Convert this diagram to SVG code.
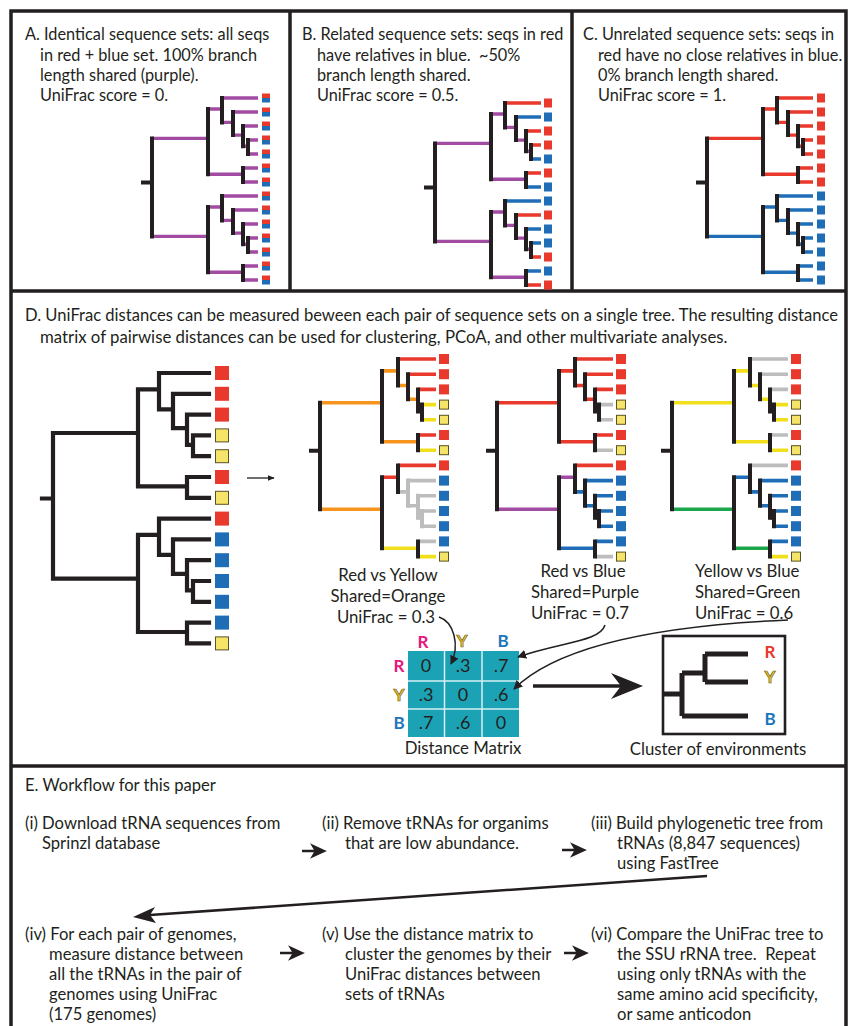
<svg xmlns="http://www.w3.org/2000/svg" xmlns:xlink="http://www.w3.org/1999/xlink" width="849" height="1026" viewBox="0 0 849 1026">
<defs>
<style>
.t{font-family:Lato,"Liberation Sans",sans-serif;font-size:16.8px;fill:#231f20}
.s{font-size:16.3px}
.e{font-size:16.6px}
.m{text-anchor:middle}
.bd{font-weight:bold}
.frame{fill:none;stroke:#231f20;stroke-width:3.5}
.h{fill:none;stroke-width:3.4;stroke-linecap:butt}
.hm{fill:none;stroke-width:3.6;stroke-linecap:butt}
.v{fill:none;stroke:#231f20;stroke-width:4;stroke-linecap:square}
.vg{fill:none;stroke:#bdbdbd;stroke-width:4;stroke-linecap:square}
.k{fill:none;stroke:#231f20;stroke-width:4.2;stroke-linecap:square}
.pu{stroke:#a24ba3}.rd{stroke:#e8392c}.bl{stroke:#1f6db6}.or{stroke:#f7941d}.ye{stroke:#f2df1c}.gr{stroke:#bdbdbd}.gn{stroke:#1ca64b}
.sr{fill:#e8392c}.sb{fill:#1f6db6}.sy{fill:#f6e46a;stroke:#5a5222;stroke-width:1}
.cur{fill:none;stroke:#231f20;stroke-width:1.5}
</style>
<marker id="ah" viewBox="0 0 10 10" refX="9" refY="5" markerWidth="9" markerHeight="9" markerUnits="userSpaceOnUse" orient="auto">
<path d="M0,0L10,5L0,10z" fill="#231f20"/>
</marker>
<marker id="ahs" viewBox="0 0 10 10" refX="9" refY="5" markerWidth="7" markerHeight="7" markerUnits="userSpaceOnUse" orient="auto">
<path d="M0,1L10,5L0,9z" fill="#231f20"/>
</marker>
<g id="rb"><rect x="0" y="-4.5" width="8" height="4.5" fill="#e8392c"/><rect x="0" y="0" width="8" height="4.5" fill="#1f6db6"/></g>
<path id="arr" d="M-11,0H2M11,0L0,-5L3,0L0,5z" stroke="#231f20" stroke-width="2.4" fill="#231f20"/>
</defs>

<rect width="849" height="1026" fill="#ffffff"/>

<g id="frame">
<path class="frame" d="M11,1026V11H846V1026M290,11V291M572,11V291M11,291H846M11,766H846"/>
</g>

<!-- Panel A -->
<g id="panelA">
<text class="t s" x="25" y="40">A. Identical sequence sets: all seqs</text>
<text class="t s" x="40" y="61">in red + blue set. 100% branch</text>
<text class="t s" x="40" y="81">length shared (purple).</text>
<text class="t s" x="40" y="101">UniFrac score = 0.</text>
<g id="treeA">
<path class="h pu" d="M152,138.4H208M152,236.4H208M208,109H222M208,174.3H243M222,98H258M222,122.4H233M233,112H258M233,135.1H243M243,126H258M243,146.3H248M248,140H258M248,154H258M243,168H258M243,182H258M208,207H222M208,272.3H243M222,196H258M222,220.4H233M233,210H258M233,233.1H243M243,224H258M243,244.3H248M248,238H258M248,252H258M243,266H258M243,280H258"/>
<path class="v" d="M143,182.5H152M152,138.4V236.4M208,109V174.3M222,98V122.4M233,112V135.1M243,126V146.3M248,140V154M243,168V182M208,207V272.3M222,196V220.4M233,210V233.1M243,224V244.3M248,238V252M243,266V280"/>
<use xlink:href="#rb" x="262" y="98"/><use xlink:href="#rb" x="262" y="112"/><use xlink:href="#rb" x="262" y="126"/><use xlink:href="#rb" x="262" y="140"/><use xlink:href="#rb" x="262" y="154"/><use xlink:href="#rb" x="262" y="168"/><use xlink:href="#rb" x="262" y="182"/><use xlink:href="#rb" x="262" y="196"/><use xlink:href="#rb" x="262" y="210"/><use xlink:href="#rb" x="262" y="224"/><use xlink:href="#rb" x="262" y="238"/><use xlink:href="#rb" x="262" y="252"/><use xlink:href="#rb" x="262" y="266"/><use xlink:href="#rb" x="262" y="280"/>
</g>
</g>

<!-- Panel B -->
<g id="panelB">
<text class="t s" x="302" y="40">B. Related sequence sets: seqs in red</text>
<text class="t s" x="317" y="61" style="white-space:pre">have relatives in blue.  ~50%</text>
<text class="t s" x="317" y="81">branch length shared.</text>
<text class="t s" x="317" y="101">UniFrac score = 0.5.</text>
<g id="treeB" transform="translate(283,5)">
<path class="h pu" d="M152,138.4H208M152,236.4H208M208,109H222M208,174.3H243M222,122.4H233M233,135.1H243M243,146.3H248M208,207H222M208,272.3H243M222,220.4H233M233,233.1H243M243,244.3H248"/>
<path class="h rd" d="M222,98H258M243,126H258M248,140H258M243,168H258M233,210H258M248,252H258M243,280H258"/>
<path class="h bl" d="M233,112H258M248,154H258M243,182H258M222,196H258M243,224H258M248,238H258M243,266H258"/>
<path class="v" d="M143,182.5H152M152,138.4V236.4M208,109V174.3M222,98V122.4M233,112V135.1M243,126V146.3M248,140V154M243,168V182M208,207V272.3M222,196V220.4M233,210V233.1M243,224V244.3M248,238V252M243,266V280"/>
<g>
<rect class="sr" x="261" y="93.5" width="8" height="9"/><rect class="sb" x="261" y="107.5" width="8" height="9"/><rect class="sr" x="261" y="121.5" width="8" height="9"/><rect class="sr" x="261" y="135.5" width="8" height="9"/><rect class="sb" x="261" y="149.5" width="8" height="9"/><rect class="sr" x="261" y="163.5" width="8" height="9"/><rect class="sb" x="261" y="177.5" width="8" height="9"/><rect class="sb" x="261" y="191.5" width="8" height="9"/><rect class="sr" x="261" y="205.5" width="8" height="9"/><rect class="sb" x="261" y="219.5" width="8" height="9"/><rect class="sb" x="261" y="233.5" width="8" height="9"/><rect class="sr" x="261" y="247.5" width="8" height="9"/><rect class="sb" x="261" y="261.5" width="8" height="9"/><rect class="sr" x="261" y="275.5" width="8" height="9"/>
</g>
</g>
</g>

<!-- Panel C -->
<g id="panelC">
<text class="t s" x="583" y="40">C. Unrelated sequence sets: seqs in</text>
<text class="t s" x="598" y="61">red have no close relatives in blue.</text>
<text class="t s" x="598" y="81">0% branch length shared.</text>
<text class="t s" x="598" y="101">UniFrac score = 1.</text>
<g id="treeC" transform="translate(555,0)">
<path class="h rd" d="M152,138.4H208M208,109H222M208,174.3H243M222,98H258M222,122.4H233M233,112H258M233,135.1H243M243,126H258M243,146.3H248M248,140H258M248,154H258M243,168H258M243,182H258"/>
<path class="h bl" d="M152,236.4H208M208,207H222M208,272.3H243M222,196H258M222,220.4H233M233,210H258M233,233.1H243M243,224H258M243,244.3H248M248,238H258M248,252H258M243,266H258M243,280H258"/>
<path class="v" d="M143,182.5H152M152,138.4V236.4M208,109V174.3M222,98V122.4M233,112V135.1M243,126V146.3M248,140V154M243,168V182M208,207V272.3M222,196V220.4M233,210V233.1M243,224V244.3M248,238V252M243,266V280"/>
<g>
<rect class="sr" x="262" y="93.5" width="8" height="9"/><rect class="sr" x="262" y="107.5" width="8" height="9"/><rect class="sr" x="262" y="121.5" width="8" height="9"/><rect class="sr" x="262" y="135.5" width="8" height="9"/><rect class="sr" x="262" y="149.5" width="8" height="9"/><rect class="sr" x="262" y="163.5" width="8" height="9"/><rect class="sr" x="262" y="177.5" width="8" height="9"/><rect class="sb" x="262" y="191.5" width="8" height="9"/><rect class="sb" x="262" y="205.5" width="8" height="9"/><rect class="sb" x="262" y="219.5" width="8" height="9"/><rect class="sb" x="262" y="233.5" width="8" height="9"/><rect class="sb" x="262" y="247.5" width="8" height="9"/><rect class="sb" x="262" y="261.5" width="8" height="9"/><rect class="sb" x="262" y="275.5" width="8" height="9"/>
</g>
</g>
</g>

<!-- Panel D -->
<g id="panelD-text">
<text class="t" x="25" y="321" textLength="813" lengthAdjust="spacingAndGlyphs">D. UniFrac distances can be measured beween each pair of sequence sets on a single tree. The resulting distance</text>
<text class="t" x="40" y="343">matrix of pairwise distances can be used for clustering, PCoA, and other multivariate analyses.</text>
</g>

<g id="treeD">
<path class="k" d="M42,498.5H53M53,433V578.6M53,433H138M53,578.6H138M138,389.3V486.4M138,389.3H159M138,486.4H187M159,373V409.3M159,373H209M159,409.3H173M173,393.8V428.2M173,393.8H209M173,428.2H187M187,414.6V444.8M187,414.6H209M187,444.8H193M193,435.4V456.2M193,435.4H209M193,456.2H209M187,477V497.8M187,477H209M187,497.8H209M138,534.9V632M138,534.9H159M138,632H187M159,518.6V554.9M159,518.6H209M159,554.9H173M173,539.4V573.8M173,539.4H209M173,573.8H187M187,560.2V590.4M187,560.2H209M187,590.4H193M193,581V601.8M193,581H209M193,601.8H209M187,622.6V643.4M187,622.6H209M187,643.4H209"/>
<rect class="sr" x="215" y="366" width="14" height="14"/><rect class="sr" x="215" y="386.8" width="14" height="14"/><rect class="sr" x="215" y="407.6" width="14" height="14"/><rect class="sy" x="215.5" y="428.9" width="13" height="13"/><rect class="sy" x="215.5" y="449.7" width="13" height="13"/><rect class="sr" x="215" y="470" width="14" height="14"/><rect class="sy" x="215.5" y="491.3" width="13" height="13"/><rect class="sr" x="215" y="511.6" width="14" height="14"/><rect class="sb" x="215" y="532.4" width="14" height="14"/><rect class="sb" x="215" y="553.2" width="14" height="14"/><rect class="sb" x="215" y="574" width="14" height="14"/><rect class="sb" x="215" y="594.8" width="14" height="14"/><rect class="sb" x="215" y="615.6" width="14" height="14"/><rect class="sy" x="215.5" y="636.9" width="13" height="13"/>
</g>

<g id="arrowD">
<path d="M247,478H274" stroke="#231f20" stroke-width="1.3" fill="none" marker-end="url(#ahs)"/>
</g>

<g id="tree1">
<path class="hm or" d="M320,402.8H382M320,509.2H382M382,370.9H398M382,441.8H418M398,385.5H408M408,399.3H418"/>
<path class="hm rd" d="M398,359H436M408,374.2H436M418,389.4H436M418,435H436M382,477.3H398M398,465.4H436"/>
<path class="hm ye" d="M418,411.4H422M422,404.6H436M422,419.8H436M418,450.2H436M382,548.2H418M418,556.6H436"/>
<path class="hm gr" d="M398,491.9H408M408,480.6H436M408,505.7H418M418,495.8H436M418,517.8H422M422,511H436M422,526.2H436M418,541.4H436"/>
<path class="vg" d="M408,480.6V505.7M418,495.8V517.8M422,511V526.2"/>
<path class="v" d="M311,450.7H320M320,402.8V509.2M382,370.9V441.8M398,359V385.5M408,374.2V399.3M418,389.4V411.4M422,404.6V419.8M418,435V450.2M382,477.3V548.2M398,465.4V491.9M418,541.4V556.6"/>
<rect class="sr" x="439" y="354" width="10" height="10"/><rect class="sr" x="439" y="369.2" width="10" height="10"/><rect class="sr" x="439" y="384.4" width="10" height="10"/><rect class="sy" x="439.5" y="400.1" width="9" height="9"/><rect class="sy" x="439.5" y="415.3" width="9" height="9"/><rect class="sr" x="439" y="430" width="10" height="10"/><rect class="sy" x="439.5" y="445.7" width="9" height="9"/><rect class="sr" x="439" y="460.4" width="10" height="10"/><rect class="sb" x="439" y="475.6" width="10" height="10"/><rect class="sb" x="439" y="490.8" width="10" height="10"/><rect class="sb" x="439" y="506" width="10" height="10"/><rect class="sb" x="439" y="521.2" width="10" height="10"/><rect class="sb" x="439" y="536.4" width="10" height="10"/><rect class="sy" x="439.5" y="552.1" width="9" height="9"/>
<text class="t m" x="388" y="581">Red vs Yellow</text>
<text class="t m" x="388" y="602">Shared=Orange</text>
<text class="t m" x="386" y="623">UniFrac = 0.3</text>
</g>

<g id="tree2">
<g transform="translate(177,0)">
<path class="hm rd" d="M320,402.8H382M382,370.9H398M382,441.8H418M398,359H436M398,385.5H408M408,374.2H436M408,399.3H418M418,389.4H436M418,435H436M398,465.4H436"/>
<path class="hm pu" d="M320,509.2H382M382,477.3H398"/>
<path class="hm gr" d="M418,411.4H422M422,404.6H436M422,419.8H436M418,450.2H436M418,556.6H436"/>
<path class="hm bl" d="M382,548.2H418M398,491.9H408M408,480.6H436M408,505.7H418M418,495.8H436M418,517.8H422M422,511H436M422,526.2H436M418,541.4H436"/>
<path class="v" d="M311,450.7H320M320,402.8V509.2M382,370.9V441.8M398,359V385.5M408,374.2V399.3M418,389.4V411.4M422,404.6V419.8M418,435V450.2M382,477.3V548.2M398,465.4V491.9M408,480.6V505.7M418,495.8V517.8M422,511V526.2M418,541.4V556.6"/>
<rect class="sr" x="439" y="354" width="10" height="10"/><rect class="sr" x="439" y="369.2" width="10" height="10"/><rect class="sr" x="439" y="384.4" width="10" height="10"/><rect class="sy" x="439.5" y="400.1" width="9" height="9"/><rect class="sy" x="439.5" y="415.3" width="9" height="9"/><rect class="sr" x="439" y="430" width="10" height="10"/><rect class="sy" x="439.5" y="445.7" width="9" height="9"/><rect class="sr" x="439" y="460.4" width="10" height="10"/><rect class="sb" x="439" y="475.6" width="10" height="10"/><rect class="sb" x="439" y="490.8" width="10" height="10"/><rect class="sb" x="439" y="506" width="10" height="10"/><rect class="sb" x="439" y="521.2" width="10" height="10"/><rect class="sb" x="439" y="536.4" width="10" height="10"/><rect class="sy" x="439.5" y="552.1" width="9" height="9"/>
</g>
<text class="t m" x="583" y="577">Red vs Blue</text>
<text class="t m" x="585" y="598">Shared=Purple</text>
<text class="t m" x="580" y="619">UniFrac = 0.7</text>
</g>

<g id="tree3">
<g transform="translate(352,0)">
<path class="hm ye" d="M320,402.8H382M382,370.9H398M382,441.8H418M398,385.5H408M408,399.3H418M418,411.4H422M422,404.6H436M422,419.8H436M418,450.2H436M418,556.6H436"/>
<path class="hm gr" d="M398,359H436M408,374.2H436M418,389.4H436M418,435H436M398,465.4H436"/>
<path class="hm gn" d="M320,509.2H382M382,548.2H418"/>
<path class="hm bl" d="M382,477.3H398M398,491.9H408M408,480.6H436M408,505.7H418M418,495.8H436M418,517.8H422M422,511H436M422,526.2H436M418,541.4H436"/>
<path class="v" d="M311,450.7H320M320,402.8V509.2M382,370.9V441.8M398,359V385.5M408,374.2V399.3M418,389.4V411.4M422,404.6V419.8M418,435V450.2M382,477.3V548.2M398,465.4V491.9M408,480.6V505.7M418,495.8V517.8M422,511V526.2M418,541.4V556.6"/>
<rect class="sr" x="439" y="354" width="10" height="10"/><rect class="sr" x="439" y="369.2" width="10" height="10"/><rect class="sr" x="439" y="384.4" width="10" height="10"/><rect class="sy" x="439.5" y="400.1" width="9" height="9"/><rect class="sy" x="439.5" y="415.3" width="9" height="9"/><rect class="sr" x="439" y="430" width="10" height="10"/><rect class="sy" x="439.5" y="445.7" width="9" height="9"/><rect class="sr" x="439" y="460.4" width="10" height="10"/><rect class="sb" x="439" y="475.6" width="10" height="10"/><rect class="sb" x="439" y="490.8" width="10" height="10"/><rect class="sb" x="439" y="506" width="10" height="10"/><rect class="sb" x="439" y="521.2" width="10" height="10"/><rect class="sb" x="439" y="536.4" width="10" height="10"/><rect class="sy" x="439.5" y="552.1" width="9" height="9"/>
</g>
<text class="t" x="695" y="577">Yellow vs Blue</text>
<text class="t" x="695" y="598">Shared=Green</text>
<text class="t" x="695" y="619">UniFrac = 0.6</text>
</g>

<g id="matrix">
<rect x="408" y="651" width="111" height="86" fill="#1ba3b5"/>
<path d="M444.5,651V737M482,651V737M408,681H519M408,709H519" stroke="#d6f0f3" stroke-width="1.5" fill="none"/>
<g class="t m" style="font-size:18px">
<text x="426" y="672">0</text><text x="463" y="672">.3</text><text x="501" y="672">.7</text>
<text x="426" y="701">.3</text><text x="463" y="701">0</text><text x="501" y="701">.6</text>
<text x="426" y="729">.7</text><text x="463" y="729">.6</text><text x="501" y="729">0</text>
</g>
<g class="t m bd" style="font-size:17px">
<text x="423" y="648" style="fill:#e5187f">R</text>
<text x="462" y="647" style="fill:#e9c431;stroke:#6b5a12;stroke-width:0.6">Y</text>
<text x="503" y="647" style="fill:#1b75bc">B</text>
<text x="399" y="672" style="fill:#e5187f">R</text>
<text x="399" y="701" style="fill:#e9c431;stroke:#6b5a12;stroke-width:0.6">Y</text>
<text x="399" y="729" style="fill:#1b75bc">B</text>
</g>
<text class="t m" x="463" y="754">Distance Matrix</text>
</g>

<g id="cluster">
<rect x="663" y="636" width="122" height="98" fill="none" stroke="#231f20" stroke-width="2.6"/>
<path d="M664,694H682M682,673V716M682,673H705M705,654V682M705,654H748M705,682H748M682,716H748" fill="none" stroke="#231f20" stroke-width="5"/>
<g class="t m bd" style="font-size:17px">
<text x="770" y="658" style="fill:#e8392c">R</text>
<text x="770" y="683" style="fill:#e9c431;stroke:#6b5a12;stroke-width:0.6">Y</text>
<text x="770" y="725" style="fill:#1b75bc">B</text>
</g>
<text class="t m" x="718" y="755">Cluster of environments</text>
</g>

<g id="connectors">
<path class="cur" d="M439,617C454,622 460,645 451,664" marker-end="url(#ah)"/>
<path class="cur" d="M605,625C600,642 560,642 518,657" marker-end="url(#ah)"/>
<path class="cur" d="M788,620C650,626 555,648 514,689" marker-end="url(#ah)"/>
<path d="M533,686H624" stroke="#231f20" stroke-width="3.5" fill="none"/>
<path d="M643,686L611,673L621,686L611,699z" fill="#231f20"/>
</g>

<!-- Panel E -->
<g id="panelE">
<text class="t e" x="25" y="791">E. Workflow for this paper</text>
<g id="step1">
<text class="t e" x="25" y="829">(i) Download tRNA sequences from</text>
<text class="t e" x="42" y="849">Sprinzl database</text>
</g>
<g id="step2">
<text class="t e" x="322" y="829">(ii) Remove tRNAs for organims</text>
<text class="t e" x="345" y="849">that are low abundance.</text>
</g>
<g id="step3">
<text class="t e" x="591" y="829">(iii) Build phylogenetic tree from</text>
<text class="t e" x="617" y="849">tRNAs (8,847 sequences)</text>
<text class="t e" x="617" y="869">using FastTree</text>
</g>
<g id="step4">
<text class="t e" x="25" y="940">(iv) For each pair of genomes,</text>
<text class="t e" x="49" y="960">measure distance between</text>
<text class="t e" x="49" y="980">all the tRNAs in the pair of</text>
<text class="t e" x="49" y="1000">genomes using UniFrac</text>
<text class="t e" x="49" y="1020">(175 genomes)</text>
</g>
<g id="step5">
<text class="t e" x="322" y="940">(v) Use the distance matrix to</text>
<text class="t e" x="345" y="960">cluster the genomes by their</text>
<text class="t e" x="345" y="980">UniFrac distances between</text>
<text class="t e" x="345" y="1000">sets of tRNAs</text>
</g>
<g id="step6">
<text class="t e" x="591" y="940">(vi) Compare the UniFrac tree to</text>
<text class="t e" x="617" y="960" style="white-space:pre">the SSU rRNA tree.  Repeat</text>
<text class="t e" x="617" y="980">using only tRNAs with the</text>
<text class="t e" x="617" y="1000">same amino acid specificity,</text>
<text class="t e" x="617" y="1020">or same anticodon</text>
</g>
<g id="flow">
<use xlink:href="#arr" x="313" y="851"/>
<use xlink:href="#arr" x="573" y="850"/>
<use xlink:href="#arr" x="291" y="953"/>
<use xlink:href="#arr" x="575" y="953"/>
<path d="M707,876L150,915" stroke="#231f20" stroke-width="2.6" fill="none"/>
<path d="M133,917L155,907L150,915L156,923z" fill="#231f20"/>
</g>
</g>
</svg>
